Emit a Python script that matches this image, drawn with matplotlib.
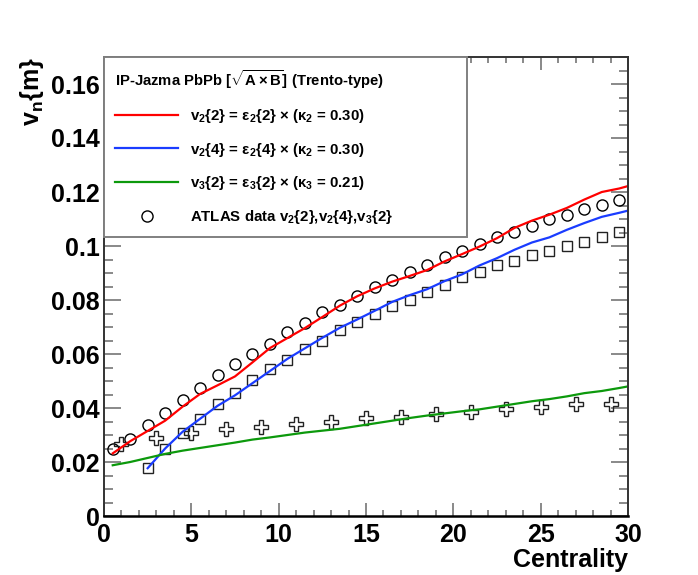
import matplotlib
matplotlib.use('Agg')
import matplotlib.pyplot as plt
import numpy as np
from matplotlib.lines import Line2D
from matplotlib.ticker import MultipleLocator, FuncFormatter

plt.rcParams['font.family'] = ['Liberation Sans', 'DejaVu Sans']
plt.rcParams['font.weight'] = 'bold'
plt.rcParams['mathtext.fontset'] = 'custom'
plt.rcParams['mathtext.rm'] = 'Liberation Sans:bold'
plt.rcParams['mathtext.bf'] = 'Liberation Sans:bold'
plt.rcParams['mathtext.it'] = 'Liberation Sans:bold'
plt.rcParams['mathtext.sf'] = 'Liberation Sans:bold'

# ATLAS data points
cent_v22 = [0.5, 1.5, 2.5, 3.5, 4.5, 5.5, 6.5, 7.5, 8.5, 9.5, 10.5, 11.5, 12.5, 13.5, 14.5,
            15.5, 16.5, 17.5, 18.5, 19.5, 20.5, 21.5, 22.5, 23.5, 24.5, 25.5, 26.5, 27.5, 28.5, 29.5]
atlas_v22 = [0.0250, 0.0287, 0.0337, 0.0382, 0.0429, 0.0474, 0.0522, 0.0563, 0.0599, 0.0638,
             0.0683, 0.0715, 0.0755, 0.0781, 0.0814, 0.0849, 0.0874, 0.0904, 0.0930, 0.0960,
             0.0982, 0.1008, 0.1032, 0.1052, 0.1073, 0.1099, 0.1116, 0.1136, 0.1153, 0.1172]

cent_v24 = [2.5, 3.5, 4.5, 5.5, 6.5, 7.5, 8.5, 9.5, 10.5, 11.5, 12.5, 13.5, 14.5, 15.5,
            16.5, 17.5, 18.5, 19.5, 20.5, 21.5, 22.5, 23.5, 24.5, 25.5, 26.5, 27.5, 28.5, 29.5]
atlas_v24 = [0.0176, 0.0247, 0.0307, 0.0359, 0.0415, 0.0456, 0.0505, 0.0543, 0.0579, 0.0617,
             0.0649, 0.0688, 0.0720, 0.0749, 0.0777, 0.0799, 0.0828, 0.0855, 0.0887, 0.0905,
             0.0928, 0.0946, 0.0965, 0.0982, 0.1001, 0.1016, 0.1032, 0.1051]

cent_v32 = [1, 3, 5, 7, 9, 11, 13, 15, 17, 19, 21, 23, 25, 27, 29]
atlas_v32 = [0.0265, 0.0290, 0.0306, 0.0321, 0.0331, 0.0342, 0.0350, 0.0362, 0.0367, 0.0379,
             0.0387, 0.0398, 0.0405, 0.0413, 0.0414]

# IP-Jazma model curves
cent_model = [0.5, 1.5, 2.5, 3.5, 4.5, 5.5, 6.5, 7.5, 8.5, 9.5, 10.5, 11.5, 12.5, 13.5, 14.5,
              15.5, 16.5, 17.5, 18.5, 19.5, 20.5, 21.5, 22.5, 23.5, 24.5, 25.5, 26.5, 27.5, 28.5,
              29.5, 30.0]
model_v22 = [0.0232, 0.0277, 0.0315, 0.0353, 0.0405, 0.0452, 0.0484, 0.0517, 0.0569, 0.0622,
             0.0659, 0.0696, 0.0737, 0.0779, 0.0814, 0.0843, 0.0868, 0.0889, 0.0911, 0.0943,
             0.0970, 0.0998, 0.1029, 0.1067, 0.1094, 0.1116, 0.1141, 0.1172, 0.1200, 0.1213,
             0.1222]
cent_model_v24 = cent_model[2:]
model_v24 = [0.0177, 0.0250, 0.0312, 0.0360, 0.0408, 0.0447, 0.0492, 0.0537, 0.0582, 0.0621,
             0.0660, 0.0697, 0.0728, 0.0760, 0.0793, 0.0818, 0.0840, 0.0870, 0.0895, 0.0928,
             0.0955, 0.0986, 0.1013, 0.1032, 0.1060, 0.1085, 0.1108, 0.1123, 0.1131]
model_v32 = [0.0188, 0.0200, 0.0215, 0.0230, 0.0242, 0.0252, 0.0262, 0.0272, 0.0283, 0.0291,
             0.0300, 0.0309, 0.0316, 0.0323, 0.0333, 0.0343, 0.0353, 0.0363, 0.0372, 0.0380,
             0.0388, 0.0395, 0.0405, 0.0415, 0.0425, 0.0433, 0.0443, 0.0455, 0.0463, 0.0474,
             0.0480]

labels = [r'v$_\mathbf{2}${2} = ε$_\mathbf{2}${2} × (κ$_\mathbf{2}$ = 0.30)',
          r'v$_\mathbf{2}${4} = ε$_\mathbf{2}${4} × (κ$_\mathbf{2}$ = 0.30)',
          r'v$_\mathbf{3}${2} = ε$_\mathbf{3}${2} × (κ$_\mathbf{3}$ = 0.21)',
          r'ATLAS data v$_\mathbf{2}${2},v$_\mathbf{2}${4},v$_\mathbf{3}${2}']
title = r'IP-Jazma PbPb [$\sqrt{\mathbf{A\times B}}$] (Trento-type)'

red = '#ff0000'
blue = '#1a3cff'
green = '#0c990c'

fig = plt.figure(figsize=(6.98, 5.75), dpi=100)
ax = fig.add_axes([104/698, 59/575, 524/698, 459/575])

ax.plot(cent_v22, atlas_v22, ls='none', marker='o', ms=8, mfc='none', mec='black', mew=1.0)
ax.plot(cent_v24, atlas_v24, ls='none', marker='s', ms=7.5, mfc='none', mec='#222222', mew=1.0)
ax.plot(cent_v32, atlas_v32, ls='none', marker='P', ms=9.5, mfc='none', mec='#222222', mew=1.0)

ax.plot(cent_model, model_v22, color=red, lw=1.6)
ax.plot(cent_model_v24, model_v24, color=blue, lw=1.6)
ax.plot(cent_model, model_v32, color=green, lw=1.6)

ax.set_xlim(0, 30)
ax.set_ylim(0, 0.17)

ax.xaxis.set_major_locator(MultipleLocator(5))
ax.xaxis.set_minor_locator(MultipleLocator(1))
ax.yaxis.set_major_locator(MultipleLocator(0.02))
ax.yaxis.set_minor_locator(MultipleLocator(0.005))
ax.yaxis.set_major_formatter(FuncFormatter(lambda v, p: '%g' % round(v, 4)))

tick_col = '#808080'
ax.tick_params(axis='both', which='both', direction='in', top=True, right=True,
               color=tick_col, width=1.3, labelsize=18)
ax.tick_params(axis='x', which='major', length=9.5, pad=5)
ax.tick_params(axis='x', which='minor', length=4)
ax.tick_params(axis='y', which='major', length=12.5, pad=3)
ax.tick_params(axis='y', which='minor', length=6.5)
for lab in ax.get_xticklabels() + ax.get_yticklabels():
    lab.set_fontweight('bold')

ax.spines['bottom'].set_linewidth(1.8)
ax.spines['bottom'].set_color('black')
for s in ['left', 'top', 'right']:
    ax.spines[s].set_linewidth(1.4)
    ax.spines[s].set_color('#333333')

ax.set_xlabel('Centrality', fontsize=18, fontweight='bold', loc='right')
ax.xaxis.set_label_coords(1.0, -0.096)
ax.xaxis.label.set_va('center')
ax.set_ylabel(r'v$_\mathbf{n}${m}', fontsize=18, fontweight='bold', loc='top')
ax.yaxis.set_label_coords(-0.138, 1.0)
ax.yaxis.label.set_va('center')

handles = [Line2D([], [], color=red, lw=1.6),
           Line2D([], [], color=blue, lw=1.6),
           Line2D([], [], color=green, lw=1.6),
           Line2D([], [], ls='none', marker='o', ms=8, mfc='none', mec='black', mew=1.0)]
leg = ax.legend(handles, labels, title=title, loc='upper left',
                bbox_to_anchor=(0, 0.623, 0.693, 0.377), mode='expand', borderaxespad=0,
                fancybox=False, edgecolor='#808080', framealpha=1, handlelength=4.2,
                handletextpad=0.75, labelspacing=1.05, borderpad=0.75, alignment='left',
                prop={'weight': 'bold', 'size': 10.8},
                title_fontproperties={'weight': 'bold', 'size': 10.7})
leg.get_frame().set_linewidth(1.4)
leg.set_zorder(10)

fig.savefig('out.png', dpi=100)
